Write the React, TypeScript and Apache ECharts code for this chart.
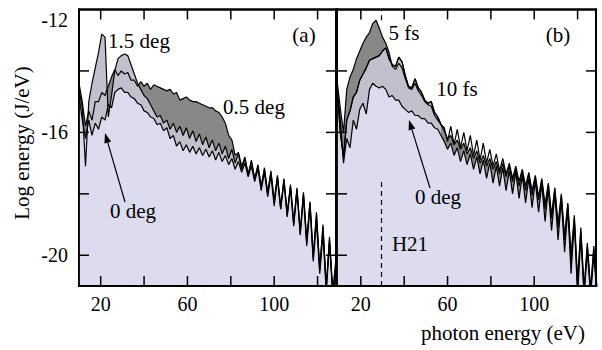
import React, { useEffect, useRef } from "react";
import * as echarts from "echarts";

// ---------- panel (a): photon energy grid (eV) ----------
const xA = [
  10, 11.5, 13, 14.5, 16, 17.5, 19, 20.5, 22, 23.5, 25, 26.5, 28, 29.5, 31, 32.5, 34, 35.5, 37, 38.5,
  40, 41.5, 43, 44.5, 46, 47.5, 49, 50.5, 52, 53.5, 55, 56.5, 58, 59.5, 61, 62.5, 64, 65.5, 67, 68.5,
  70, 71.5, 73, 74.5, 76, 77.5, 79, 80.5, 82, 83.5, 85, 86.5, 88, 89.5, 91, 92.5, 94, 95.5, 97, 98.5,
  100, 101.5, 103, 104.5, 106, 107.5, 109, 110.5, 112, 113.5, 115, 116.5, 118, 119.5, 121, 122.5, 124, 125.5, 127, 128.5,
];
// 0 deg (a)
const deg0A = [
  -14.8, -15.6, -16.2, -15.6, -16.1, -15.7, -15.9, -15.5, -15.6, -15.1, -15.2, -14.7, -14.6, -14.55, -14.7, -14.7, -14.85, -14.9, -15.05, -15.1,
  -15.3, -15.35, -15.5, -15.55, -15.75, -15.7, -15.95, -15.85, -16.2, -16.1, -16.45, -16.3, -16.6, -16.4, -16.65, -16.45, -16.7, -16.5, -16.75, -16.55,
  -16.8, -16.6, -16.9, -16.65, -16.95, -16.75, -17.05, -16.85, -17.2, -16.95, -17.3, -17.0, -17.45, -17.1, -17.6, -17.2, -17.9, -17.3, -18.1, -17.4,
  -18.4, -17.5, -18.5, -17.6, -18.7, -17.8, -19.0, -17.9, -19.3, -18.1, -19.7, -18.4, -20.2, -18.9, -20.6, -19.3, -21.2, -19.6, -21.3, -20.5,
];
// 1.5 deg (a)
const deg15A = [
  -14.6, -15.2, -17.1, -15.0, -14.4, -13.9, -13.4, -12.8, -12.9, -15.5, -14.8, -14.0, -13.6, -13.5, -13.45, -13.5, -13.8, -14.1, -14.4, -14.6,
  -14.8, -14.9, -15.1, -15.3, -15.5, -15.45, -15.7, -15.6, -15.9, -15.7, -16.0, -15.8, -16.1, -15.85, -16.2, -15.95, -16.3, -16.05, -16.4, -16.15,
  -16.5, -16.25, -16.6, -16.35, -16.7, -16.45, -16.85, -16.55, -17.0, -16.7, -17.2, -16.85, -17.35, -16.95, -17.5, -17.1, -17.75, -17.2, -17.95, -17.3,
  -18.2, -17.45, -18.4, -17.55, -18.6, -17.75, -18.9, -17.85, -19.2, -18.0, -19.5, -18.3, -20.0, -18.7, -20.4, -19.1, -21.0, -19.5, -21.2, -20.3,
];
// 0.5 deg (a)
const deg05A = [
  -14.4, -15.0, -15.8, -15.3, -15.6, -15.0, -15.0, -14.7, -14.8, -14.5, -14.2, -13.95, -14.15, -14.0, -14.1, -14.05, -14.3, -14.3, -14.5, -14.35,
  -14.5, -14.4, -14.6, -14.45, -14.5, -14.55, -14.6, -14.65, -14.6, -14.75, -14.7, -14.95, -14.9, -14.85, -14.95, -15.0, -15.0, -15.05, -15.1, -15.15,
  -15.2, -15.2, -15.3, -15.35, -15.5, -15.7, -16.1, -16.25, -16.75, -16.65, -17.1, -16.8, -17.4, -16.9, -17.55, -17.05, -17.8, -17.15, -18.0, -17.25,
  -18.3, -17.4, -18.5, -17.5, -18.75, -17.7, -19.05, -17.8, -19.35, -17.95, -19.6, -18.25, -20.1, -18.6, -20.5, -19.0, -21.1, -19.4, -21.2, -20.1,
];

// ---------- panel (b) ----------
const xB = [
  9, 10.5, 12, 13.5, 15, 16.5, 18, 19.5, 21, 22.5, 24, 25.5, 27, 28.5, 30, 31.5, 33, 34.5, 36, 37.5,
  39, 40.5, 42, 43.5, 45, 46.5, 48, 49.5, 51, 52.5, 54, 55.5, 57, 58.5, 60, 61.5, 63, 64.5, 66, 67.5,
  69, 70.5, 72, 73.5, 75, 76.5, 78, 79.5, 81, 82.5, 84, 85.5, 87, 88.5, 90, 91.5, 93, 94.5, 96, 97.5,
  99, 100.5, 102, 103.5, 105, 106.5, 108, 109.5, 111, 112.5, 114, 115.5, 117, 118.5, 120, 121.5, 123, 124.5, 126, 127.5, 129,
];
// 0 deg (b)
const deg0B = [
  -14.5, -15.6, -17.0, -16.2, -16.5, -15.6, -15.9, -15.25, -15.05, -15.4, -14.6, -14.4, -14.5, -14.55, -14.5, -14.6, -14.85, -14.8, -14.95, -14.95,
  -15.15, -15.25, -15.35, -15.3, -15.45, -15.45, -15.55, -15.55, -15.7, -15.7, -15.85, -15.9, -16.1, -16.3, -16.55, -16.35, -16.75, -16.5, -16.95, -16.6,
  -17.05, -16.7, -17.2, -16.8, -17.35, -16.9, -17.5, -17.0, -17.65, -17.1, -17.75, -17.15, -17.9, -17.25, -18.0, -17.3, -18.15, -17.4, -18.3, -17.5,
  -18.45, -17.6, -18.6, -17.7, -18.9, -17.85, -19.2, -18.0, -19.5, -18.2, -19.9, -18.5, -20.6, -18.9, -21.3, -19.4, -21.3, -19.9, -21.3, -20.0, -21.3,
];
// 5 fs (b)
const fs5B = [
  -14.3, -15.2, -16.0, -14.6, -14.2, -13.95, -13.6, -13.35, -13.1, -12.9, -12.75, -12.45, -12.35, -12.6, -12.9, -13.1, -13.4, -13.85, -13.95, -13.75,
  -13.9, -14.25, -14.55, -14.6, -14.4, -14.65, -14.8, -15.0, -15.1, -15.15, -15.45, -15.6, -15.75, -15.95, -16.2, -16.1, -16.4, -16.25, -16.55, -16.35,
  -16.7, -16.5, -16.85, -16.6, -17.0, -16.75, -17.1, -16.85, -17.2, -16.95, -17.35, -17.0, -17.45, -17.1, -17.6, -17.2, -17.75, -17.25, -17.9, -17.35,
  -18.05, -17.45, -18.2, -17.55, -18.5, -17.7, -18.8, -17.85, -19.1, -18.05, -19.5, -18.35, -20.2, -18.8, -21.0, -19.2, -21.2, -19.7, -21.2, -19.8, -21.2,
];
// 10 fs (b)
const fs10B = [
  -14.5, -16.0, -16.8, -15.6, -15.3, -14.85, -14.7, -14.3, -14.1, -13.9, -13.65, -13.6, -13.55, -13.5, -13.35, -13.25, -13.6, -13.8, -13.85, -13.55,
  -13.7, -14.15, -14.5, -14.55, -14.25, -14.55, -14.7, -14.95, -15.05, -15.0, -15.35, -15.5, -15.75, -15.85, -16.3, -15.8, -16.4, -15.9, -16.5, -16.0,
  -16.6, -16.1, -16.75, -16.25, -16.9, -16.35, -17.0, -16.55, -17.1, -16.7, -17.25, -16.85, -17.35, -17.0, -17.5, -17.1, -17.6, -17.2, -17.75, -17.3,
  -17.9, -17.4, -18.1, -17.5, -18.35, -17.65, -18.7, -17.8, -19.0, -18.0, -19.4, -18.3, -20.0, -18.7, -20.8, -19.1, -21.1, -19.6, -21.1, -19.7, -21.1,
];
const fs10ShadeEnd = 57; // eV: shading under the 10 fs curve stops here
const h21 = 29.5; // eV, dashed marker

// ---------- axes ----------
const xMinA = 10;
const xMinB = 9;
const xMax = 128.5;
const yMin = -21;
const yMax = -12;
const yTicks = [-20, -18, -16, -14];
const yLabels = [-20, -16, -12];
const xTicks = [20, 40, 60, 80, 100, 120];
const xLabels = [20, 60, 100];

const FONT = '"Liberation Serif", "Times New Roman", serif';
const LIGHT = "#dcdcee";
const MEDIUM = "#c3c0ce";
const DARK = "#878888";

// panel layout (pixels)
const PANELS = [
  { left: 79, top: 9.5, width: 257, height: 276.5 },
  { left: 337, top: 9.5, width: 259, height: 276.5 },
];

const zip = (xs: number[], ys: (number | null)[]) => xs.map((x, i) => [x, ys[i]]);

export default function App() {
  const ref = useRef<HTMLDivElement>(null);

  useEffect(() => {
    if (!ref.current) return;
    const chart = echarts.init(ref.current, undefined, { renderer: "svg" });

    const mkX = (grid: number, min: number) => ({
      type: "value",
      gridIndex: grid,
      position: "bottom",
      min,
      max: xMax,
      axisLine: { show: false },
      splitLine: { show: false },
      axisTick: { show: false },
      axisLabel: { show: true, customValues: xLabels, margin: 8, color: "#000", fontFamily: FONT, fontSize: 20 },
    });
    const mkY = (grid: number, labels: boolean) => ({
      type: "value",
      gridIndex: grid,
      position: "left",
      min: yMin,
      max: yMax,
      axisLine: { show: false },
      splitLine: { show: false },
      axisTick: { show: false },
      axisLabel: labels
        ? {
            show: true,
            customValues: yLabels,
            margin: 11,
            color: "#000",
            fontFamily: FONT,
            fontSize: 20,
            verticalAlignMaxLabel: "top",
          }
        : { show: false },
    });

    const area = (
      name: string,
      xs: number[],
      ys: (number | null)[],
      color: string,
      g: number
    ) => ({
      name,
      type: "line",
      xAxisIndex: g,
      yAxisIndex: g,
      data: zip(xs, ys),
      showSymbol: false,
      symbol: "none",
      lineStyle: { color: "#000", width: 1.2 },
      areaStyle: { color, opacity: 1, origin: "start" },
      silent: true,
    });

    const fs10Shade = fs10B.map((v, i) => (xB[i] <= fs10ShadeEnd ? v : null));

    const text = (t: string, x: number, y: number, extra: any = {}) => ({
      type: "text",
      x,
      y,
      z: 100,
      ...extra,
      style: {
        text: t,
        font: `21px ${FONT}`,
        fill: "#000",
        textAlign: "center",
        textVerticalAlign: "middle",
        align: "center",
        verticalAlign: "middle",
      },
    });
    const bar = (x: number, y: number, w: number, h: number) => ({
      type: "rect",
      z: 100,
      shape: { x, y, width: w, height: h },
      style: { fill: "#000", stroke: null },
    });
    const arrow = (x1: number, y1: number, x2: number, y2: number) => {
      const dx = x2 - x1;
      const dy = y2 - y1;
      const L = Math.hypot(dx, dy);
      const ux = dx / L;
      const uy = dy / L;
      const bx = x2 - ux * 10;
      const by = y2 - uy * 10;
      const px = -uy * 3.5;
      const py = ux * 3.5;
      return [
        { type: "line", z: 100, shape: { x1, y1, x2: bx, y2: by }, style: { stroke: "#000", lineWidth: 1.2 } },
        {
          type: "polygon",
          z: 100,
          shape: { points: [[x2, y2], [bx + px, by + py], [bx - px, by - py]] },
          style: { fill: "#000" },
        },
      ];
    };
    const W = 1.8;
    const box = (p: { left: number; top: number; width: number; height: number }) => {
      const l = p.left;
      const t = p.top;
      const r = p.left + p.width;
      const b = p.top + p.height;
      return [
        bar(l - W / 2, t - W / 2, r - l + W, W),
        bar(l - W / 2, b - W / 2, r - l + W, W),
        bar(l - W / 2, t - W / 2, W, b - t + W),
        bar(r - W / 2, t - W / 2, W, b - t + W),
      ];
    };

    // inward ticks on all four sides, positioned through the axes' scales (custom series)
    const ticksSeries = (g: number, xMin: number) => ({
      type: "custom",
      xAxisIndex: g,
      yAxisIndex: g,
      z: 50,
      clip: false,
      silent: true,
      data: [[xMin, yMin]],
      renderItem: (_p: any, api: any) => {
        const tl = api.coord([xMin, yMax]);
        const br = api.coord([xMax, yMin]);
        const children: any[] = [];
        xTicks.forEach((v) => {
          const px = api.coord([v, yMin])[0];
          children.push({ type: "rect", shape: { x: px - 0.75, y: br[1] - 10, width: 1.5, height: 10 }, style: { fill: "#000" } });
          children.push({ type: "rect", shape: { x: px - 0.75, y: tl[1], width: 1.5, height: 10 }, style: { fill: "#000" } });
        });
        yTicks.forEach((v) => {
          const py = api.coord([xMin, v])[1];
          children.push({ type: "rect", shape: { x: tl[0], y: py - 0.75, width: 10, height: 1.5 }, style: { fill: "#000" } });
          children.push({ type: "rect", shape: { x: br[0] - 10, y: py - 0.75, width: 10, height: 1.5 }, style: { fill: "#000" } });
        });
        return { type: "group", children };
      },
    });

    chart.setOption({
      animation: false,
      backgroundColor: "#fff",
      grid: PANELS.map((p) => ({
        ...p,
        show: true,
        borderColor: "#000",
        borderWidth: W,
        backgroundColor: "rgba(0,0,0,0)",
      })),
      xAxis: [mkX(0, xMinA), mkX(1, xMinB)],
      yAxis: [mkY(0, true), mkY(1, false)],
      series: [
        area("0.5 deg", xA, deg05A, DARK, 0),
        area("1.5 deg", xA, deg15A, MEDIUM, 0),
        area("0 deg (a)", xA, deg0A, LIGHT, 0),
        area("5 fs", xB, fs5B, DARK, 1),
        area("10 fs shade", xB, fs10Shade, MEDIUM, 1),
        {
          ...area("0 deg (b)", xB, deg0B, LIGHT, 1),
          markLine: {
            silent: true,
            symbol: ["none", "none"],
            label: { show: false },
            lineStyle: { color: "#000", width: 1.2, type: [5, 4] },
            data: [
              [{ coord: [h21, yMin] }, { coord: [h21, -17.55] }],
              [{ coord: [h21, -12.35] }, { coord: [h21, yMax] }],
            ],
          },
        },
        {
          name: "10 fs",
          type: "line",
          xAxisIndex: 1,
          yAxisIndex: 1,
          data: zip(xB, fs10B),
          showSymbol: false,
          symbol: "none",
          lineStyle: { color: "#000", width: 1.2 },
          silent: true,
        },
        ticksSeries(0, xMinA),
        ticksSeries(1, xMinB),
      ],
      graphic: [
        ...box(PANELS[0]),
        ...box(PANELS[1]),
        text("Log energy (J/eV)", 22, 143, { rotation: Math.PI / 2 }),
        text("photon energy (eV)", 503, 333),
        text("1.5 deg", 139, 41),
        text("(a)", 304, 35),
        text("0.5 deg", 254, 107),
        text("0 deg", 133, 211),
        ...arrow(125, 202, 105, 133),
        text("(b)", 558, 35),
        text("5 fs", 404, 33),
        text("10 fs", 457, 89),
        text("0 deg", 438, 197),
        text("H21", 410, 244),
        ...arrow(430, 188, 409, 120),
      ],
    });

    return () => chart.dispose();
  }, []);

  return (
    <div
      ref={ref}
      style={{ position: "fixed", left: 0, top: 0, width: 602, height: 350, background: "#fff" }}
    />
  );
}
